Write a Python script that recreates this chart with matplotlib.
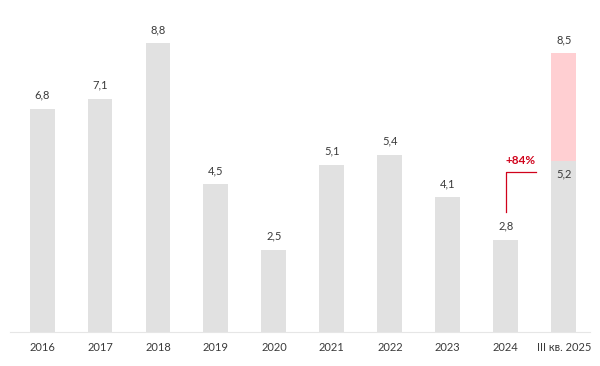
import matplotlib.pyplot as plt

plt.rcParams['font.family'] = ['Lato', 'DejaVu Sans']

years = ['2016', '2017', '2018', '2019', '2020', '2021', '2022', '2023', '2024', 'III кв. 2025']
values = [6.8, 7.1, 8.8, 4.5, 2.5, 5.1, 5.4, 4.1, 2.8, 5.2]
extra_last = 8.5 - 5.2
total_last = 8.5
growth_label = '+84%'

grey = '#e1e1e1'
pink = '#ffcfd2'
red = '#d0021b'
txt = '#3a3a3a'

fig = plt.figure(figsize=(6, 3.66), dpi=100)
ax = fig.add_axes([0.017, 0.093, 0.966, 0.907])

x = list(range(len(years)))
ax.bar(x, values, width=0.43, color=grey)
ax.bar(x[-1], extra_last, bottom=values[-1], width=0.43, color=pink)

for i, v in enumerate(values[:-1]):
    ax.text(i, v + 0.25, f'{v:.1f}'.replace('.', ','), ha='center', va='bottom',
            fontsize=8, color=txt)
ax.text(x[-1], values[-1] - 0.22, f'{values[-1]:.1f}'.replace('.', ','), ha='center',
        va='top', fontsize=8, color=txt)
ax.text(x[-1], total_last + 0.25, f'{total_last:.1f}'.replace('.', ','), ha='center',
        va='bottom', fontsize=8, color=txt)

# стрелка роста
ax.plot([8, 8, 8.52], [3.66, 4.88, 4.88], color=red, linewidth=0.9)
ax.text(8.26, 5.05, growth_label, ha='center', va='bottom', fontsize=8.5,
        fontweight='bold', color=red)

ax.set_xlim(-0.55, 9.45)
ax.set_ylim(0, 10.12)
ax.set_xticks(x)
ax.set_xticklabels(years, fontsize=8, color=txt)
ax.tick_params(axis='x', length=0, pad=7)
ax.set_yticks([])
for s in ['top', 'right', 'left']:
    ax.spines[s].set_visible(False)
ax.spines['bottom'].set_color('#e6e6e6')
ax.spines['bottom'].set_linewidth(0.8)

fig.savefig('out.png', dpi=100)
